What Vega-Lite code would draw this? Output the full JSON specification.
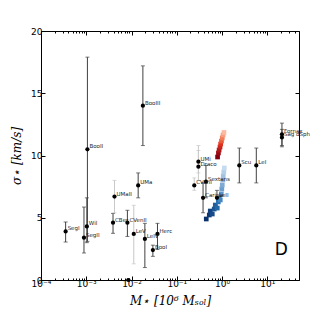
{
  "$schema": "https://vega.github.io/schema/vega-lite/v6.json",
  "width": 258,
  "height": 249,
  "autosize": {"type": "none"},
  "padding": {"left": 41, "top": 31, "right": 33, "bottom": 32},
  "background": "white",
  "config": {
    "view": {"stroke": "black", "strokeWidth": 1},
    "font": "DejaVu Sans",
    "axis": {"domainColor": "black", "tickColor": "black", "labelColor": "black", "titleColor": "black", "labelFont": "DejaVu Sans", "labelFontSize": 9, "grid": false, "labelFlush": false, "labelOverlap": false}
  },
  "datasets": {
    "gal": [
      {"name": "SegI", "m": 0.00035, "s": 3.9, "lo": 3.05, "hi": 4.66, "ref": "a"},
      {"name": "SegII", "m": 0.00089, "s": 3.4, "lo": 2.17, "hi": 5.86, "ref": "a"},
      {"name": "Wil", "m": 0.00103, "s": 4.3, "lo": 3.0, "hi": 6.6, "ref": "a"},
      {"name": "BooII", "m": 0.00106, "s": 10.5, "lo": 3.1, "hi": 17.9, "ref": "a"},
      {"name": "BooIII", "m": 0.0178, "s": 14.0, "lo": 10.8, "hi": 17.2, "ref": "a"},
      {"name": "UMaII", "m": 0.0042, "s": 6.7, "lo": 5.4, "hi": 8.0, "ref": "b"},
      {"name": "UMa", "m": 0.014, "s": 7.6, "lo": 6.6, "hi": 8.6, "ref": "a"},
      {"name": "CBer", "m": 0.0039, "s": 4.6, "lo": 3.75, "hi": 5.35, "ref": "a"},
      {"name": "CVenII", "m": 0.0081, "s": 4.6, "lo": 3.5, "hi": 5.6, "ref": "a"},
      {"name": "LeV", "m": 0.0112, "s": 3.7, "lo": 1.3, "hi": 6.0, "ref": "b"},
      {"name": "LeIV", "m": 0.0197, "s": 3.3, "lo": 1.0, "hi": 4.55, "ref": "a"},
      {"name": "Herc", "m": 0.0374, "s": 3.7, "lo": 2.45, "hi": 4.55, "ref": "a"},
      {"name": "BooI", "m": 0.0296, "s": 2.4, "lo": 1.9, "hi": 2.8, "ref": "a"},
      {"name": "", "m": 0.0085, "s": 0.0, "lo": 0.0, "hi": 0.0, "ref": "a"},
      {"name": "UMi", "m": 0.30, "s": 9.5, "lo": 8.6, "hi": 10.8, "ref": "b"},
      {"name": "Draco", "m": 0.30, "s": 9.1, "lo": 8.0, "hi": 10.4, "ref": "b"},
      {"name": "CVenI", "m": 0.243, "s": 7.6, "lo": 7.2, "hi": 8.2, "ref": "b"},
      {"name": "Sextans", "m": 0.44, "s": 7.9, "lo": 6.6, "hi": 9.2, "ref": "a"},
      {"name": "Carina", "m": 0.38, "s": 6.6, "lo": 5.4, "hi": 7.8, "ref": "a"},
      {"name": "LeII", "m": 0.77, "s": 6.6, "lo": 5.8, "hi": 7.2, "ref": "a"},
      {"name": "Scu", "m": 2.4, "s": 9.2, "lo": 7.8, "hi": 10.6, "ref": "a"},
      {"name": "LeI", "m": 5.7, "s": 9.2, "lo": 7.8, "hi": 10.6, "ref": "a"},
      {"name": "Fornax", "m": 21, "s": 11.7, "lo": 10.8, "hi": 12.6, "ref": "a"},
      {"name": "Sag dSph", "m": 21, "s": 11.45, "lo": 10.7, "hi": 12.1, "ref": "a"}
    ],
    "blue": [
      {"m": 0.447, "s": 4.9, "t": 0},
      {"m": 0.521, "s": 5.22, "t": 1},
      {"m": 0.548, "s": 5.54, "t": 2},
      {"m": 0.607, "s": 5.3, "t": 3},
      {"m": 0.671, "s": 5.7, "t": 4},
      {"m": 0.708, "s": 6.02, "t": 5},
      {"m": 0.783, "s": 5.78, "t": 6},
      {"m": 0.824, "s": 6.27, "t": 7},
      {"m": 0.867, "s": 6.59, "t": 8},
      {"m": 0.912, "s": 6.43, "t": 9},
      {"m": 0.96, "s": 6.91, "t": 10},
      {"m": 0.985, "s": 7.31, "t": 11},
      {"m": 1.01, "s": 7.63, "t": 12},
      {"m": 1.04, "s": 8.03, "t": 13},
      {"m": 1.06, "s": 8.35, "t": 14},
      {"m": 1.09, "s": 8.67, "t": 15},
      {"m": 1.12, "s": 9.0, "t": 16}
    ],
    "red": [
      {"m": 0.795, "s": 9.88, "t": 0},
      {"m": 0.83, "s": 10.2, "t": 1},
      {"m": 0.86, "s": 10.44, "t": 2},
      {"m": 0.9, "s": 10.68, "t": 3},
      {"m": 0.93, "s": 10.92, "t": 4},
      {"m": 0.97, "s": 11.16, "t": 5},
      {"m": 1.01, "s": 11.41, "t": 6},
      {"m": 1.05, "s": 11.65, "t": 7},
      {"m": 1.1, "s": 11.85, "t": 8}
    ],
    "ann": [{"m": 20.4, "s": 2.4, "label": "D"}]
  },
  "resolve": {"axis": {"x": "independent", "y": "independent"}, "scale": {"fill": "independent"}},
  "layer": [
    {
      "data": {"name": "gal"},
      "mark": {"type": "rule", "strokeWidth": 1},
      "encoding": {
        "x": {"field": "m", "type": "quantitative", "scale": {"type": "log", "domain": [0.0001, 50], "nice": false},
          "axis": {"orient": "bottom",
            "values": [0.0001,0.0002,0.0003,0.0004,0.0005,0.0006,0.0007,0.0008,0.0009,0.001,0.002,0.003,0.004,0.005,0.006,0.007,0.008,0.009,0.01,0.02,0.03,0.04,0.05,0.06,0.07,0.08,0.09,0.1,0.2,0.3,0.4,0.5,0.6,0.7,0.8,0.9,1,2,3,4,5,6,7,8,9,10,20,30,40,50],
            "labelExpr": "abs(log(datum.value)/LN10 - round(log(datum.value)/LN10)) < 0.001 ? ['10⁻⁴','10⁻³','10⁻²','10⁻¹','10⁰','10¹','10²'][round(log(datum.value)/LN10)+4] : ''",
            "tickSize": {"condition": {"test": "abs(log(datum.value)/LN10 - round(log(datum.value)/LN10)) < 0.001", "value": -4}, "value": -2},
            "labelPadding": 3, "domain": false,
            "title": "M⋆ [10⁶ Mₛₒₗ]", "titleFont": "DejaVu Serif", "titleFontStyle": "italic", "titleFontWeight": "normal", "titleFontSize": 12, "titlePadding": 5}},
        "y": {"field": "lo", "type": "quantitative", "scale": {"domain": [0, 20], "nice": false, "zero": false},
          "axis": {"orient": "left", "values": [0, 5, 10, 15, 20], "tickSize": -4, "labelPadding": 3, "domain": false,
            "title": "σ⋆ [km/s]", "titleFont": "DejaVu Serif", "titleFontStyle": "italic", "titleFontWeight": "normal", "titleFontSize": 12, "titlePadding": 7}},
        "y2": {"field": "hi"},
        "color": {"field": "ref", "type": "nominal", "scale": {"domain": ["a", "b"], "range": ["#404040", "#c8c8c8"]}, "legend": null}
      }
    },
    {
      "data": {"name": "gal"},
      "mark": {"type": "tick", "orient": "horizontal", "size": 4, "thickness": 1},
      "encoding": {
        "x": {"field": "m", "type": "quantitative", "scale": {"type": "log", "domain": [0.0001, 50], "nice": false}, "axis": null},
        "y": {"field": "hi", "type": "quantitative", "scale": {"domain": [0, 20], "nice": false, "zero": false}, "axis": null},
        "color": {"field": "ref", "type": "nominal", "scale": {"domain": ["a", "b"], "range": ["#404040", "#c8c8c8"]}, "legend": null}
      }
    },
    {
      "data": {"name": "gal"},
      "mark": {"type": "tick", "orient": "horizontal", "size": 4, "thickness": 1},
      "encoding": {
        "x": {"field": "m", "type": "quantitative", "scale": {"type": "log", "domain": [0.0001, 50], "nice": false}, "axis": null},
        "y": {"field": "lo", "type": "quantitative", "scale": {"domain": [0, 20], "nice": false, "zero": false}, "axis": null},
        "color": {"field": "ref", "type": "nominal", "scale": {"domain": ["a", "b"], "range": ["#404040", "#c8c8c8"]}, "legend": null}
      }
    },
    {
      "data": {"name": "blue"},
      "mark": {"type": "square", "size": 22, "opacity": 1, "filled": true},
      "encoding": {
        "x": {"field": "m", "type": "quantitative", "scale": {"type": "log", "domain": [0.0001, 50], "nice": false}, "axis": null},
        "y": {"field": "s", "type": "quantitative", "scale": {"domain": [0, 20], "nice": false, "zero": false}, "axis": null},
        "fill": {"field": "t", "type": "quantitative", "scale": {"domain": [0, 8, 16], "range": ["#08306b", "#2b7bba", "#c6dbef"]}, "legend": null}
      }
    },
    {
      "data": {"name": "red"},
      "mark": {"type": "square", "size": 22, "opacity": 1, "filled": true},
      "encoding": {
        "x": {"field": "m", "type": "quantitative", "scale": {"type": "log", "domain": [0.0001, 50], "nice": false}, "axis": null},
        "y": {"field": "s", "type": "quantitative", "scale": {"domain": [0, 20], "nice": false, "zero": false}, "axis": null},
        "fill": {"field": "t", "type": "quantitative", "scale": {"domain": [0, 4, 8], "range": ["#800010", "#e0301e", "#fcbba1"]}, "legend": null}
      }
    },
    {
      "data": {"name": "gal"},
      "mark": {"type": "circle", "size": 18, "opacity": 1, "color": "black"},
      "encoding": {
        "x": {"field": "m", "type": "quantitative", "scale": {"type": "log", "domain": [0.0001, 50], "nice": false}, "axis": null},
        "y": {"field": "s", "type": "quantitative", "scale": {"domain": [0, 20], "nice": false, "zero": false}, "axis": null}
      }
    },
    {
      "data": {"name": "gal"},
      "mark": {"type": "text", "align": "left", "baseline": "alphabetic", "dx": 2, "dy": -1, "fontSize": 5.5, "font": "DejaVu Sans", "color": "#222222"},
      "encoding": {
        "x": {"field": "m", "type": "quantitative", "scale": {"type": "log", "domain": [0.0001, 50], "nice": false}, "axis": null},
        "y": {"field": "s", "type": "quantitative", "scale": {"domain": [0, 20], "nice": false, "zero": false}, "axis": null},
        "text": {"field": "name"}
      }
    },
    {
      "data": {"name": "ann"},
      "mark": {"type": "text", "align": "center", "baseline": "middle", "fontSize": 17, "font": "DejaVu Sans", "color": "black"},
      "encoding": {
        "x": {"field": "m", "type": "quantitative", "scale": {"type": "log", "domain": [0.0001, 50], "nice": false}, "axis": null},
        "y": {"field": "s", "type": "quantitative", "scale": {"domain": [0, 20], "nice": false, "zero": false}, "axis": null},
        "text": {"field": "label"}
      }
    },
    {
      "data": {"name": "ann"},
      "mark": {"type": "point", "opacity": 0},
      "encoding": {
        "x": {"field": "m", "type": "quantitative", "scale": {"type": "log", "domain": [0.0001, 50], "nice": false},
          "axis": {"orient": "top", "domain": false, "labels": false, "title": null,
            "values": [0.0001,0.0002,0.0003,0.0004,0.0005,0.0006,0.0007,0.0008,0.0009,0.001,0.002,0.003,0.004,0.005,0.006,0.007,0.008,0.009,0.01,0.02,0.03,0.04,0.05,0.06,0.07,0.08,0.09,0.1,0.2,0.3,0.4,0.5,0.6,0.7,0.8,0.9,1,2,3,4,5,6,7,8,9,10,20,30,40,50],
            "tickSize": {"condition": {"test": "abs(log(datum.value)/LN10 - round(log(datum.value)/LN10)) < 0.001", "value": -4}, "value": -2}}},
        "y": {"field": "s", "type": "quantitative", "scale": {"domain": [0, 20], "nice": false, "zero": false},
          "axis": {"orient": "right", "domain": false, "labels": false, "title": null, "values": [0, 5, 10, 15, 20], "tickSize": -4}}
      }
    }
  ]
}
